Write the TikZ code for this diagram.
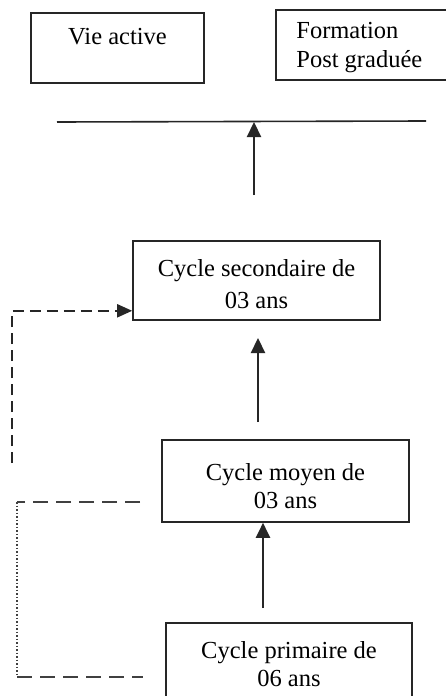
\documentclass[tikz,border=0pt]{standalone}
\usepackage{fontspec}
\setmainfont{Liberation Serif}
\usetikzlibrary{arrows.meta,calc}
\begin{document}
\begin{tikzpicture}[x=1pt,y=-1pt,
  box/.style={draw=black!85,line width=1.6pt,rectangle,inner sep=0pt},
  txt/.style={inner sep=0pt,font=\fontsize{24.5}{#1}\selectfont,align=center},
  txt/.default=32,
  arr/.style={line width=2.2pt,draw=black!85,-{Triangle[length=15pt,width=14pt]}},
  dasharr/.style={line width=2pt,draw=black!85,dash pattern=on 11pt off 6pt,-{Triangle[length=15pt,width=13pt]}},
  thindash/.style={line width=1.1pt,draw=black!75,dash pattern=on 15pt off 8pt},
  thindot/.style={line width=1.1pt,draw=black!75,dash pattern=on 1.5pt off 2pt}]
\useasboundingbox (0,0) rectangle (446,696);
\clip (0,0) rectangle (446,696);
\fill[white] (0,0) rectangle (446,696);
% top boxes
\node[box,minimum width=173pt,minimum height=70pt] (vie) at (117.5,48) {};
\node[txt] (viet) at ($(vie.center)+(0,-11)$) {Vie active};
\node[box,minimum width=178pt,minimum height=70pt] (form) at (365,45) {};
\node[txt=29,align=left,anchor=west] (formt) at ($(form.west)+(21,2.5)$) {Formation\\Post graduée};
% horizontal bar
\coordinate (barL) at (57,122);
\coordinate (barR) at (426,121);
\draw[line width=1.6pt,draw=black!85] (barL) -- (barR);
% main boxes
\node[box,minimum width=247pt,minimum height=79pt] (sec) at (256.5,280.5) {};
\node[txt=32] (sect) at ($(sec.center)+(0,3.5)$) {Cycle secondaire de\\03 ans};
\node[box,minimum width=247pt,minimum height=82pt] (moy) at (285.5,481) {};
\node[txt=28] (moyt) at ($(moy.center)+(0,5)$) {Cycle moyen de\\03 ans};
\node[box,minimum width=246pt,minimum height=84pt] (pri) at (289,665) {};
\node[txt=28] (prit) at ($(pri.center)+(0,-1)$) {Cycle primaire de\\06 ans};
% arrows
\coordinate (a1) at (254,195);
\draw[arr] (a1) -- (a1 |- barL);
\coordinate (a2s) at (258,422);
\coordinate (a2e) at (258,338);
\draw[arr] (a2s) -- (a2e);
\coordinate (a3) at (263,608);
\draw[arr] (a3) -- (a3 |- moy.south);
% dashed arrow to secondary
\coordinate (d1) at (12,463);
\draw[dasharr] (d1) |- ($(sec.south west)+(0,-10)$);
% dotted/dashed bracket
\coordinate (b1) at (140,502);
\coordinate (b2) at (17,502);
\coordinate (b3) at (17,677);
\coordinate (b4) at (143,677);
\draw[thindash] (b1) -- (b2);
\draw[thindot] (b2) -- (b3);
\draw[thindash] (b3) -- (b4);
\end{tikzpicture}
\end{document}
